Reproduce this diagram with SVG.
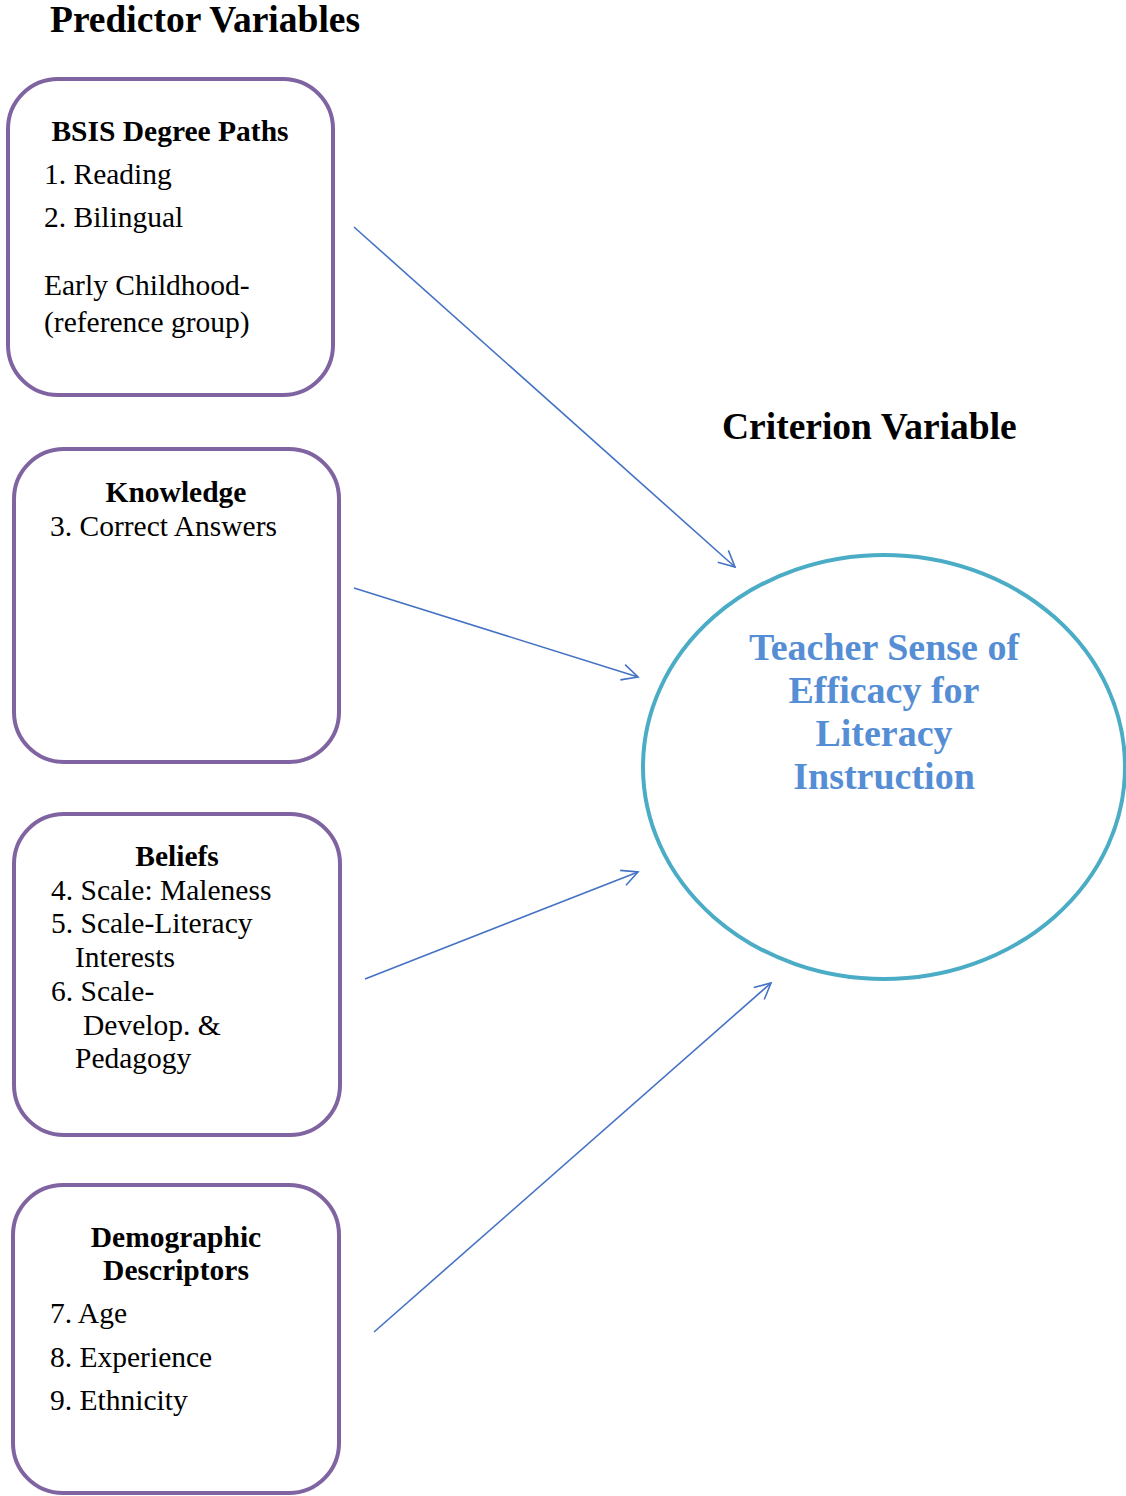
<svg xmlns="http://www.w3.org/2000/svg" width="1126" height="1496" viewBox="0 0 1126 1496">
<defs>
<style>
text{font-family:"Liberation Serif","Times New Roman",serif;fill:#000}
.h{font-size:37.5px;font-weight:bold}
.t{font-size:29.5px;font-weight:bold;text-anchor:middle}
.i{font-size:29.5px}
.c{font-size:38px;font-weight:bold;fill:#558ED5;text-anchor:middle}
.box{fill:#fff;stroke:#8064A2;stroke-width:4}
.con{stroke:#4472C4;stroke-width:1.6;fill:none;marker-end:url(#ah)}
</style>
<marker id="ah" viewBox="0 0 20 20" refX="18" refY="10" markerWidth="20" markerHeight="20" markerUnits="userSpaceOnUse" orient="auto">
<path d="M2,2 L18,10 L2,18" fill="none" stroke="#4472C4" stroke-width="1.6"/>
</marker>
</defs>
<rect width="1126" height="1496" fill="#fff"/>
<text class="h" x="50" y="32">Predictor Variables</text>
<text class="h" x="722" y="439">Criterion Variable</text>
<g id="bsis">
<rect class="box" x="8" y="79" width="325" height="316" rx="50"/>
<text class="t" x="170" y="141">BSIS Degree Paths</text>
<text class="i" x="44" y="184">1. Reading</text>
<text class="i" x="44" y="227">2. Bilingual</text>
<text class="i" x="44" y="295">Early Childhood-</text>
<text class="i" x="44" y="332">(reference group)</text>
</g>
<g id="knowledge">
<rect class="box" x="14" y="449" width="325" height="313" rx="50"/>
<text class="t" x="176" y="502">Knowledge</text>
<text class="i" x="50" y="536">3. Correct Answers</text>
</g>
<g id="beliefs">
<rect class="box" x="14" y="814" width="326" height="321" rx="50"/>
<text class="t" x="177" y="866">Beliefs</text>
<text class="i" x="51" y="900">4. Scale: Maleness</text>
<text class="i" x="51" y="933">5. Scale-Literacy</text>
<text class="i" x="75" y="967">Interests</text>
<text class="i" x="51" y="1001">6. Scale-</text>
<text class="i" x="83" y="1035">Develop. &amp;</text>
<text class="i" x="75" y="1068">Pedagogy</text>
</g>
<g id="demographic">
<rect class="box" x="13" y="1185" width="326" height="308" rx="50"/>
<text class="t" x="176" y="1247">Demographic</text>
<text class="t" x="176" y="1280">Descriptors</text>
<text class="i" x="50" y="1323">7. Age</text>
<text class="i" x="50" y="1367">8. Experience</text>
<text class="i" x="50" y="1410">9. Ethnicity</text>
</g>
<g id="criterion">
<ellipse cx="884" cy="767" rx="241" ry="212" fill="#fff" stroke="#4BACC6" stroke-width="4"/>
<text class="c" x="884" y="660">Teacher Sense of</text>
<text class="c" x="884" y="703">Efficacy for</text>
<text class="c" x="884" y="746">Literacy</text>
<text class="c" x="884" y="789">Instruction</text>
</g>
<g id="connectors">
<line class="con" x1="354" y1="227" x2="735" y2="567"/>
<line class="con" x1="354" y1="588" x2="638" y2="677"/>
<line class="con" x1="365" y1="979" x2="638" y2="872"/>
<line class="con" x1="374" y1="1332" x2="771" y2="983"/>
</g>
</svg>
